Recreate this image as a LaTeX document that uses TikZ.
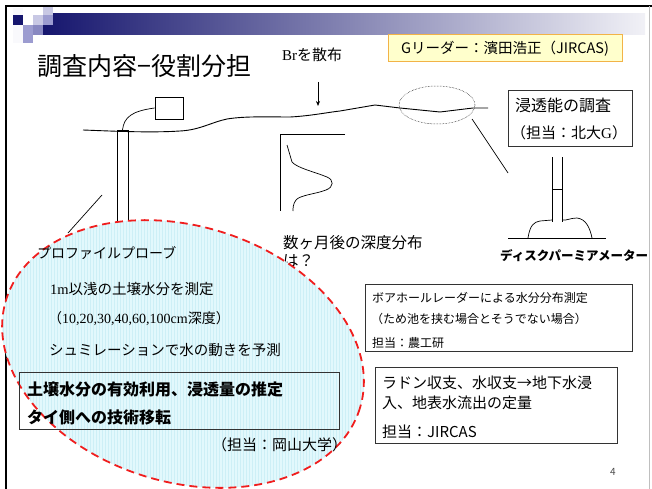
\documentclass[tikz,border=0pt]{standalone}
\usepackage{fontspec}
\setmainfont{Noto Sans CJK JP}
\newfontfamily\tnr{Liberation Serif}
\usetikzlibrary{arrows.meta}
\definecolor{navy}{HTML}{16166E}
\definecolor{lavA}{HTML}{C8C8E4}
\definecolor{lavB}{HTML}{9C9CD0}
\definecolor{leadfill}{HTML}{FFFFCC}
\definecolor{leadline}{HTML}{F2B347}
\definecolor{skyfill}{HTML}{E2F8FC}
\definecolor{skygrid}{HTML}{CDEFF6}
\definecolor{dashred}{HTML}{F01E1E}
\newcommand{\fs}[1]{\fontsize{#1}{#1}\selectfont}
\begin{document}
\begin{tikzpicture}[x=1pt,y=-1pt,
  txt/.style={anchor=base west,inner sep=0pt},
  thin line/.style={line width=0.7pt},
  framebox/.style={draw=black!80,line width=0.8pt}]
\useasboundingbox (0,0) rectangle (652,489);
\fill[white] (0,0) rectangle (652,489);

% slide frame
\draw[line width=2pt] (6,489) -- (6,6) -- (652,6);
\draw[black!25,line width=0.8pt] (649,6) -- (649,489);

% title bar
\shade[left color=navy,right color=white!94!navy] (43,14) rectangle (645,35);
\fill[white!90!lavA] (13,8) rectangle (23,43);
\fill[lavA] (43,7) rectangle (53,15);
\fill[navy] (13,15) rectangle (23,25);
\fill[lavA] (33,15) rectangle (43,25);
\fill[lavB] (43,15) rectangle (53,25);
\fill[lavB] (23,25) rectangle (33,35);
\fill[lavB!85!navy] (33,25) rectangle (43,35);
\fill[lavB] (23,35) rectangle (33,43);

% title and group leader
\node[txt] (title) at (37,76) {\fs{25}調査内容−役割分担};
\node[draw=leadline,fill=leadfill,line width=1pt,minimum width=234,minimum height=27,inner sep=0pt]
  (leader) at (505,48.5) {\fs{14.5}Gリーダー：濱田浩正（JIRCAS)};

% spraying Br
\node[txt] (br) at (282,61) {\fs{15}{\tnr Br}を散布};
\coordinate (arrtop) at (318,82);
\coordinate (arrbot) at (318,106);
\draw[thin line,-{Stealth[length=5pt,width=4pt]}] (arrtop) -- (arrbot);

% ground surface
\draw[line width=0.9pt] (83,130) .. controls (110,131) and (150,133) .. (180,131)
  .. controls (200,130) and (212,122) .. (227,119)
  .. controls (245,116) and (270,117) .. (290,117)
  .. controls (310,116) and (330,112) .. (340,111)
  -- (375,105) -- (400,108) -- (440,112) -- (473,108) -- (488,108);

% profile probe with logger and cable
\node[draw,thin line,minimum width=28,minimum height=22,inner sep=0pt] (logger) at (169,108) {};
\node[draw,thin line,minimum width=11,minimum height=103,inner sep=0pt,anchor=north] (probe) at (122.5,130) {};
\draw[thin line] (logger.west) .. controls (132,111) and (124,117) .. (probe.north);
\coordinate (pp1) at (102,195);
\coordinate (pp2) at (68,233);
\draw[thin line] (pp1) -- (pp2);

% depth distribution sketch
\draw[thin line] (345,134) -- (280,134) -- (280,211);
\draw[thin line] (287,145) -- (292,162)
  .. controls (297,168) and (315,172) .. (327,177)
  .. controls (334,180) and (334,187) .. (326,190)
  .. controls (316,194) and (300,195) .. (296,200)
  .. controls (293,204) and (293,208) .. (293,211);
\node[txt] (depth1) at (283,248) {\fs{15.5}数ヶ月後の深度分布};
\node[txt] (depth2) at (283,266) {\fs{15.5}は？};

% infiltration survey
\draw[densely dotted,line width=0.5pt] (437,105) ellipse [x radius=38,y radius=19];
\coordinate (ell) at (472,119);
\coordinate (disk) at (508,173);
\draw[thin line] (ell) -- (disk);
\node[framebox,anchor=north west,minimum width=124,minimum height=56,inner sep=0pt] (inf) at (508,90) {};
\node[txt] (inf1) at (515,112) {\fs{16}浸透能の調査};
\node[txt] (inf2) at (511,139) {\fs{15}（担当：北大{\tnr G}）};

% disc permeameter
\draw[thin line] (552,157) -- (552,222);
\draw[thin line] (562,157) -- (562,222);
\draw[thin line] (552,189) -- (562,189);
\draw[thin line] (508,238) -- (606,238);
\draw[thin line] (528,238) .. controls (530,225) and (534,222) .. (540,221) -- (552,220);
\draw[thin line] (562,220) .. controls (566,221) and (570,218) .. (577,218)
  .. controls (586,219) and (590,228) .. (592,238);
\node[txt] (dpm) at (500,260) {\fs{12.5}\bfseries\itshape ディスクパーミアメーター};

% Okayama University area
\begin{scope}
  \clip[rotate around={-17:(183,354)}] (183,354) ellipse [x radius=185,y radius=128];
  \fill[skyfill] (0,215) rectangle (370,489);
  \draw[skygrid,line width=0.3pt,step=3] (0,215) grid (370,489);
\end{scope}
\draw[dashred,line width=1.8pt,dash pattern=on 8pt off 5pt,rotate around={-17:(183,354)}]
  (183,354) ellipse [x radius=185,y radius=128];
\node[txt] (pp) at (37,258) {\fs{14}プロファイルプローブ};
\node[txt] (ok1) at (50,294) {\fs{14.5}{\tnr 1m}以浅の土壌水分を測定};
\node[txt] (ok2) at (48,323) {\fs{14}（{\tnr 10,20,30,40,60,100cm}深度）};
\node[txt] (ok3) at (49,355) {\fs{14.5}シュミレーションで水の動きを予測};
\node[framebox,anchor=north west,minimum width=320,minimum height=57,inner sep=0pt] (goal) at (19,372) {};
\node[txt] (g1) at (27,395) {\fs{16}\bfseries 土壌水分の有効利用、浸透量の推定};
\node[txt] (g2) at (27,423) {\fs{16}\bfseries タイ側への技術移転};
\node[txt] (ok4) at (212,450) {\fs{15}（担当：岡山大学）};

% borehole radar
\node[framebox,anchor=north west,minimum width=267,minimum height=67,inner sep=0pt] (br1) at (365,284) {};
\node[txt] (b1) at (372,302) {\fs{12}ボアホールレーダーによる水分分布測定};
\node[txt] (b2) at (371,323) {\fs{12}（ため池を挟む場合とそうでない場合）};
\node[txt] (b3) at (372,347) {\fs{12}担当：農工研};

% radon balance
\node[framebox,anchor=north west,minimum width=242,minimum height=76,inner sep=0pt] (rn) at (375,367) {};
\node[txt] (r1) at (382,388) {\fs{15}ラドン収支、水収支→地下水浸};
\node[txt] (r2) at (382,408) {\fs{15}入、地表水流出の定量};
\node[txt] (r3) at (382,437) {\fs{15}担当：JIRCAS};

\node[txt,text=black!70] (page) at (610,475) {\fs{10}4};
\end{tikzpicture}
\end{document}
